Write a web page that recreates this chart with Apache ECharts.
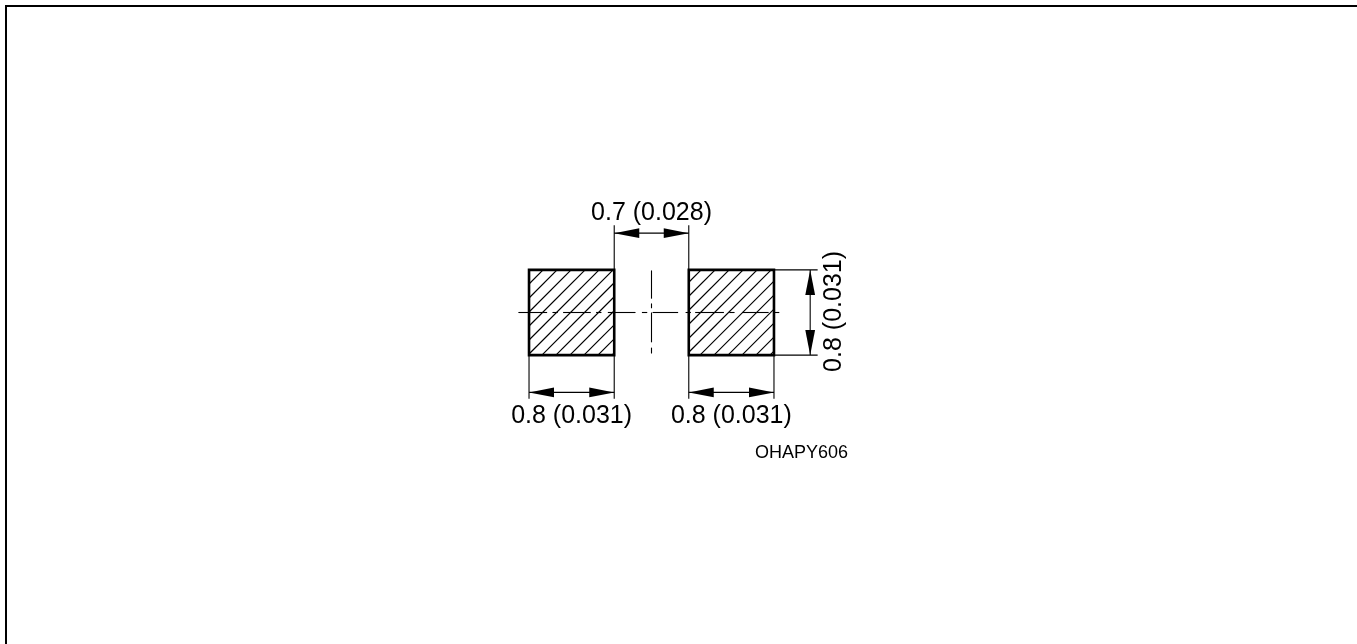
<!DOCTYPE html>
<html><head><meta charset="utf-8">
<style>html,body{margin:0;padding:0;background:#fff}#c{width:1357px;height:644px}</style>
<script src="https://cdn.jsdelivr.net/npm/echarts@6/dist/echarts.min.js"></script>
</head><body><div id="c"></div>
<script>
// All lengths in millimetres, origin at the centre of the footprint.
const padRects = [[-1.15, -0.35, -0.4, 0.4], [0.35, 1.15, -0.4, 0.4]];
const hatchStep = 0.1315;
const hatchPhase = [0.0285, 0.066];
const extensionLines = [
  [-0.35, 0.4, -0.35, 0.82], [0.35, 0.4, 0.35, 0.82],
  [-1.15, -0.4, -1.15, -0.81], [-0.35, -0.4, -0.35, -0.81],
  [0.35, -0.4, 0.35, -0.81], [1.15, -0.4, 1.15, -0.81],
  [1.15, 0.4, 1.56, 0.4], [1.15, -0.4, 1.56, -0.4]
];
const dimensionArrows = [
  [-0.35, 0.745, 0.35, 0.745], [-1.15, -0.75, -0.35, -0.75],
  [0.35, -0.75, 1.15, -0.75], [1.49, 0.4, 1.49, -0.4]
];
const centreLineH = [[-1.25,-0.98],[-0.93,-0.88],[-0.83,-0.57],[-0.52,-0.47],[-0.41,-0.15],[-0.09,-0.04],[0.01,0.25],[0.32,0.37],[0.41,0.68],[0.73,0.78],[0.85,1.10],[1.15,1.2]];
const centreLineV = [[0.395,0.13],[0.085,0.04],[0.0,-0.28],[-0.33,-0.385]];
const centreLineX = 0;
const centreLineY = 0;
const labels = [
  ['0.7 (0.028)', 0.0, 0.94, 0, 'center'],
  ['0.8 (0.031)', -0.75, -0.97, 0, 'center'],
  ['0.8 (0.031)', 0.75, -0.97, 0, 'center'],
  ['0.8 (0.031)', 1.71, 0.01, 90, 'center'],
  ['OHAPY606', 1.845, -1.32, 0, 'right']
];
const labelSizes = [25, 25, 25, 25, 18];
const labelStretch = [1.05, 1.05, 1.05, 1.05, 1];

const W = 1357, H = 644, PX = 106.5, CX = 651.5, CY = 312.5;
const black = '#000';

function lineShape(a, b, w, stroke) {
  return { type: 'line', shape: { x1: a[0], y1: a[1], x2: b[0], y2: b[1] }, style: { stroke: stroke || black, lineWidth: w } };
}
function arrowHead(tip, dir) {
  const L = 25, H2 = 4.9;
  const bx = tip[0] + dir[0] * L, by = tip[1] + dir[1] * L;
  return { type: 'polygon', shape: { points: [tip, [bx - dir[1] * H2, by + dir[0] * H2], [bx + dir[1] * H2, by - dir[0] * H2]] }, style: { fill: black } };
}
const custom = (data, renderItem, z) => ({ type: 'custom', coordinateSystem: 'cartesian2d', data, renderItem, clip: false, silent: true, z, encode: { x: 0, y: 1 } });

const option = {
  animation: false,
  backgroundColor: '#fff',
  grid: { left: 0, right: 0, top: 0, bottom: 0 },
  xAxis: { type: 'value', show: false, min: -CX / PX, max: (W - CX) / PX },
  yAxis: { type: 'value', show: false, min: -(H - CY) / PX, max: CY / PX },
  series: [
    // hatching: lines of constant (x - y), rising to the right
    custom(padRects, (p, api) => {
      const [x0, x1, y0, y1] = padRects[p.dataIndex];
      const ph = hatchPhase[p.dataIndex];
      const ch = [];
      const dMin = x0 - y1, dMax = x1 - y0;
      for (let k = Math.ceil((dMin - ph) / hatchStep); k * hatchStep + ph < dMax; k++) {
        const d = k * hatchStep + ph;
        const a = d + y0 >= x0 ? [d + y0, y0] : [x0, x0 - d];
        const b = d + y1 <= x1 ? [d + y1, y1] : [x1, x1 - d];
        ch.push(lineShape(api.coord(a), api.coord(b), 1.2));
      }
      return { type: 'group', children: ch };
    }, 1),
    // pad outlines
    custom(padRects, (p, api) => {
      const [x0, x1, y0, y1] = padRects[p.dataIndex];
      const a = api.coord([x0, y1]), b = api.coord([x1, y0]);
      return { type: 'rect', shape: { x: a[0], y: a[1], width: b[0] - a[0], height: b[1] - a[1] }, style: { fill: 'none', stroke: black, lineWidth: 2.6 } };
    }, 3),
    // extension lines
    custom(extensionLines, (p, api) => {
      const [a, b, c, d] = extensionLines[p.dataIndex];
      return lineShape(api.coord([a, b]), api.coord([c, d]), 1.1);
    }, 2),
    // dimension arrows
    custom(dimensionArrows, (p, api) => {
      const [a, b, c, d] = dimensionArrows[p.dataIndex];
      const s = api.coord([a, b]), e = api.coord([c, d]);
      const len = Math.hypot(e[0] - s[0], e[1] - s[1]);
      const dir = [(e[0] - s[0]) / len, (e[1] - s[1]) / len];
      return { type: 'group', children: [
        lineShape(s, e, 1.1),
        arrowHead(s, dir),
        arrowHead(e, [-dir[0], -dir[1]])
      ] };
    }, 2),
    // centre lines
    custom(centreLineH, (p, api) => {
      const [a, b] = centreLineH[p.dataIndex];
      return lineShape(api.coord([a, centreLineY]), api.coord([b, centreLineY]), 1.1);
    }, 4),
    custom(centreLineV, (p, api) => {
      const [a, b] = centreLineV[p.dataIndex];
      return lineShape(api.coord([centreLineX, a]), api.coord([centreLineX, b]), 1.1);
    }, 4),
    // labels
    custom(labels.map(l => [l[1], l[2]]), (p, api) => {
      const l = labels[p.dataIndex];
      const c = api.coord([l[1], l[2]]);
      return { type: 'text', x: c[0], y: c[1], rotation: l[3] * Math.PI / 180, scaleY: labelStretch[p.dataIndex],
        style: { text: l[0], fill: black, font: labelSizes[p.dataIndex] + 'px "Liberation Sans", Arial, sans-serif', textAlign: l[4], textVerticalAlign: 'middle' } };
    }, 5)
  ],
  graphic: [
    { type: 'polyline', shape: { points: [[6, 644], [6, 6], [1357, 6]] }, style: { stroke: black, fill: 'none', lineWidth: 2 } }
  ]
};
echarts.init(document.getElementById('c'), null, { renderer: 'canvas' }).setOption(option);
</script></body></html>
